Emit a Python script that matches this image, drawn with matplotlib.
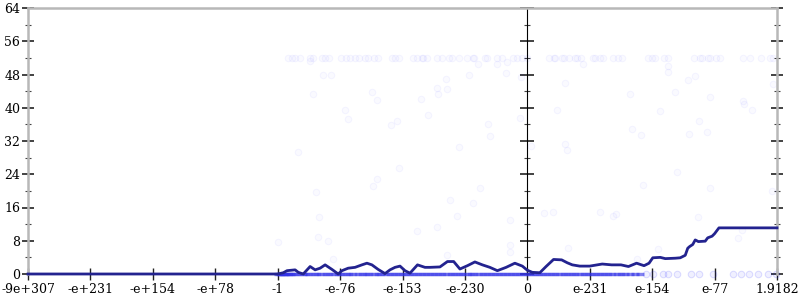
import matplotlib
matplotlib.use("Agg")
import matplotlib.pyplot as plt
from matplotlib.ticker import MultipleLocator, NullFormatter

# ---- data (x in axis ordinal units, y = bits of error) ----
x_tick_labels = ["-9e+307", "-e+231", "-e+154", "-e+78", "-1", "-e-76", "-e-153",
                 "-e-230", "0", "e-231", "e-154", "e-77", "1.9182"]
y_ticks = [0, 8, 16, 24, 32, 40, 48, 56, 64]

line_x = [0.0, 4.0, 4.09, 4.15, 4.28, 4.33, 4.41, 4.52, 4.6, 4.68, 4.76, 4.87, 4.97,
          5.03, 5.13, 5.24, 5.35, 5.43, 5.51, 5.61, 5.72, 5.8, 5.88, 5.96, 6.04, 6.12,
          6.24, 6.36, 6.44, 6.6, 6.72, 6.82, 6.92, 7.04, 7.16, 7.28, 7.4, 7.52, 7.66,
          7.8, 7.92, 8.0, 8.08, 8.2, 8.3, 8.42, 8.55, 8.64, 8.72, 8.84, 9.0, 9.2, 9.35,
          9.5, 9.62, 9.75, 9.87, 9.95, 10.01, 10.13, 10.21, 10.37, 10.45, 10.53, 10.57,
          10.6, 10.65, 10.69, 10.74, 10.85, 10.89, 10.96, 11.0, 11.07, 12.0]
line_y = [0.0, 0.0, 0.3, 0.8, 1.0, 0.4, 0.0, 1.8, 1.0, 1.4, 2.2, 1.1, 0.0,
          0.8, 1.4, 1.6, 2.2, 2.6, 2.2, 1.1, 0.1, 1.0, 1.6, 1.9, 0.8, 0.2,
          2.2, 1.6, 1.6, 1.7, 3.0, 3.0, 1.2, 2.0, 2.9, 2.2, 1.6, 0.8, 1.6,
          2.6, 1.9, 0.9, 0.4, 0.3, 1.8, 3.5, 3.4, 2.7, 2.2, 1.9, 1.9, 2.4, 2.2,
          2.2, 1.8, 2.6, 2.0, 2.6, 3.9, 4.0, 3.7, 3.8, 3.9, 4.5, 6.2,
          6.6, 7.1, 8.2, 7.8, 7.9, 8.7, 9.1, 9.7, 11.1, 11.1]

pts_x = [4.17, 4.23, 4.28, 4.36, 4.52, 4.57, 4.71, 4.76, 4.82, 5.01, 5.10, 5.16, 5.24,
         5.31, 5.40, 5.44, 5.54, 5.60, 5.83, 5.88, 5.95, 6.17, 6.23, 6.31, 6.33, 6.39,
         6.56, 6.63, 6.75, 6.79, 6.91, 7.03, 7.13, 7.15, 7.32, 7.36, 7.52, 7.59, 7.77,
         7.83, 7.91, 7.99, 8.34, 8.42, 8.45, 8.55, 8.59, 8.67, 8.77, 8.79, 8.86, 9.05,
         9.09, 9.17, 9.21, 9.38, 9.46, 9.51, 9.94, 10.00, 10.05, 10.19, 10.25, 10.67,
         10.77, 10.80, 10.90, 10.93, 11.03, 11.09, 11.45, 11.57, 11.74, 11.89, 11.94,
         4.52, 4.72, 4.85, 4.57, 5.08, 5.12, 5.51, 5.59, 5.82, 5.91, 6.29, 6.41, 6.55,
         6.57, 6.69, 6.72, 6.91, 7.07, 7.21, 7.37, 7.40, 7.51, 7.66, 7.67, 7.88, 7.90,
         8.06, 8.89, 8.61, 9.64, 10.26, 10.26, 10.58, 10.69, 10.36, 10.92, 11.46, 11.47,
         11.60, 8.47, 10.13, 10.75, 10.88, 9.67, 9.82, 10.59, 8.61, 11.94,
         4.32, 5.59, 5.53, 4.62, 4.66, 4.64, 4.80, 4.01, 4.89, 5.95, 7.24, 6.76, 7.13,
         6.88, 7.72, 8.27, 8.41, 6.55, 6.24, 8.65, 7.72, 7.72, 6.71, 8.63, 10.40, 9.85,
         10.93, 9.38, 9.42, 10.74, 11.38, 11.44, 10.10, 9.75, 11.92, 9.17]
pts_y = [52]*75 + [
         51.2, 47.9, 47.9, 43.3, 39.5, 37.3, 43.8, 41.8, 35.9, 36.8, 42.0, 38.3, 44.8,
         43.2, 46.9, 44.4, 30.5, 48.0, 50.5, 36.2, 33.2, 50.5, 48.3, 51.0, 37.5, 47.5,
         30.8, 50.5, 46.0, 43.3, 50.0, 48.6, 46.7, 47.6, 43.8, 42.5, 41.7, 40.9,
         39.5, 39.5, 39.3, 36.9, 34.2, 35.0, 33.4, 33.7, 31.3, 45.7,
         29.4, 22.8, 21.2, 19.8, 13.6, 9.0, 8.0, 7.8, 3.5, 25.4, 20.6, 17.8, 17.2,
         14.0, 13.0, 14.6, 15.0, 11.2, 10.3, 6.2, 7.0, 5.4, 4.6, 29.8, 24.6, 21.3,
         20.6, 14.0, 14.4, 13.6, 8.7, 10.7, 5.9, 3.5, 20.0, 15.0]

# zero-error samples: dense run, then sparse ones
zero_x_dense = [4.0, 4.03, 4.05, 4.08, 4.1, 4.13, 4.16, 4.19, 4.22, 4.27, 4.33, 4.4,
                4.46, 4.51, 4.58, 4.63, 4.7, 4.77, 4.83, 4.9, 4.96, 5.02, 5.09, 5.15,
                5.21, 5.28, 5.35, 5.41, 5.47, 5.54, 5.6, 5.66, 5.73, 5.8, 5.86, 5.92,
                5.99, 6.05, 6.12, 6.18, 6.25, 6.31, 6.38, 6.44, 6.5, 6.57, 6.63, 6.7,
                6.77, 6.83, 6.9, 6.96, 7.03, 7.09, 7.15, 7.22, 7.29, 7.35, 7.41, 7.48,
                7.55, 7.61, 7.67, 7.74, 7.8, 7.87, 7.93, 8.0, 8.06, 8.12, 8.19, 8.25,
                8.32, 8.38, 8.45, 8.51, 8.58, 8.64, 8.71, 8.77, 8.84, 8.9, 8.97, 9.03,
                9.1, 9.16, 9.23, 9.3, 9.36, 9.43, 9.5, 9.57, 9.64, 9.72, 9.8]
zero_x_sparse = [9.9, 10.02, 10.18, 10.25, 10.4, 10.62, 10.75, 10.98, 11.3, 11.42,
                 11.55, 11.7, 11.86, 11.98]

# ---- figure ----
plt.rcParams['font.family'] = ['DejaVu Serif']
fig = plt.figure(figsize=(8, 3), dpi=100)
ax = fig.add_axes([28/800, 26/300, 749/800, 266/300])

ax.scatter(zero_x_dense, [0.0] * len(zero_x_dense), s=40, marker='_',
           color='#3030e6', alpha=0.6, linewidths=2.4, zorder=2, clip_on=False)
ax.scatter(zero_x_sparse, [0.0] * len(zero_x_sparse), s=22, facecolor=(0, 0, 1, 0.06),
           edgecolor=(0, 0, 1, 0.12), linewidths=0.8, zorder=2, clip_on=False)
ax.scatter(pts_x, pts_y, s=22, facecolor=(0, 0, 1, 0.02), edgecolor=(0, 0, 1, 0.035),
           linewidths=0.8, zorder=2)
ax.plot(line_x, line_y, color='#23238f', lw=2, zorder=4, solid_joinstyle='round',
        clip_on=False)

ax.set_xlim(0, 12)
ax.set_ylim(0, 64)
ax.set_xticks(range(len(x_tick_labels)))
ax.set_xticklabels(x_tick_labels)
ax.set_yticks(y_ticks)
ax.yaxis.set_minor_locator(MultipleLocator(4))

for s in ['top', 'left', 'right']:
    ax.spines[s].set_color('#b8b8b8')
    ax.spines[s].set_linewidth(1.8)
ax.spines['bottom'].set_visible(False)

ax.tick_params(axis='y', which='major', direction='inout', length=9, width=1.2,
               color='#222222', labelsize=9, pad=1, right=True)
ax.tick_params(axis='y', which='minor', direction='inout', length=5, width=0.8,
               color='#444444', right=True)
ax.tick_params(axis='x', which='major', direction='inout', length=9, width=1.0,
               color='#222222', labelsize=9, pad=2)

mid = ax.secondary_yaxis(8/12)
mid.spines['left'].set_color('#666666')
mid.spines['left'].set_linewidth(1.0)
mid.set_yticks(y_ticks)
mid.yaxis.set_minor_locator(MultipleLocator(4))
mid.yaxis.set_major_formatter(NullFormatter())
mid.tick_params(which='major', direction='inout', length=10, width=1.2, color='#222222')
mid.tick_params(which='minor', direction='inout', length=5, width=0.8, color='#444444')

fig.savefig('out.png', dpi=100)
